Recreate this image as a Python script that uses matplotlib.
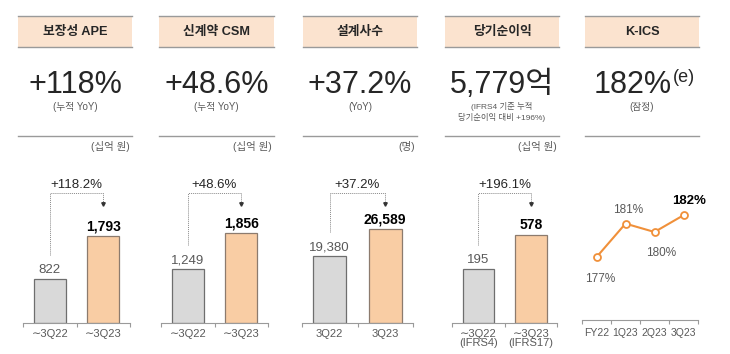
import numpy as np
import matplotlib.pyplot as plt
from matplotlib.patches import Rectangle
from matplotlib import transforms

plt.rcParams['font.family'] = ['Liberation Sans', 'Noto Sans CJK KR', 'DejaVu Sans']

# --- data ---
titles = ['보장성 APE', '신계약 CSM', '설계사수', '당기순이익', 'K-ICS']
headline = ['+118%', '+48.6%', '+37.2%', '5,779억', '182%']
subnotes = ['(누적 YoY)', '(누적 YoY)', '(YoY)', '(IFRS4 기준 누적\n당기순이익 대비 +196%)', '(잠정)']
units = ['(십억 원)', '(십억 원)', '(명)', '(십억 원)', '']

bar_labels = [['∼3Q22', '∼3Q23'], ['∼3Q22', '∼3Q23'], ['3Q22', '3Q23'],
              ['∼3Q22\n(IFRS4)', '∼3Q23\n(IFRS17)']]
bar_values = [[822, 1793], [1249, 1856], [19380, 26589], [195, 578]]
growth = ['+118.2%', '+48.6%', '+37.2%', '+196.1%']

kics_quarters = ['FY22', '1Q23', '2Q23', '3Q23']
kics_ratio = [177, 181, 180, 182]

# --- layout (pixels) ---
W, H = 730, 354
panel_x = [(18, 132), (159, 274), (303, 417), (445, 559), (585, 699)]
axis_x = [(23, 130), (161, 268), (302, 413), (452, 557), (582, 698)]
bar_ylims = [(-172, 3170), (338, 2834), (1490, 41008), (-413, 1254)]

header_fill = '#FBE3CF'
line_gray = '#9A9A9A'
txt_dark = '#262626'
txt_gray = '#595959'
gray_bar = '#D9D9D9'
peach_bar = '#F9CDA4'
orange = '#F0903A'


def fx(px):
    return px / W


def fy(py):
    return 1 - py / H


fig = plt.figure(figsize=(7.3, 3.54), dpi=100)

# --- header blocks ---
for i, (x0, x1) in enumerate(panel_x):
    cx = fx((x0 + x1) / 2)
    fig.patches.append(Rectangle((fx(x0), fy(47)), fx(x1) - fx(x0), fy(16) - fy(47),
                                 transform=fig.transFigure, facecolor=header_fill,
                                 edgecolor='none'))
    for yy in (16, 47):
        fig.add_artist(plt.Line2D([fx(x0), fx(x1)], [fy(yy), fy(yy)], color=line_gray,
                                  lw=1.0, transform=fig.transFigure))
    fig.text(cx, fy(32), titles[i], ha='center', va='center', fontsize=9.2,
             color=txt_dark, weight='bold')

    if i < 4:
        fig.text(cx, fy(85), headline[i], ha='center', va='center', fontsize=22,
                 color=txt_dark)
    else:
        fig.text(fx(672), fy(85), headline[i], ha='right', va='center', fontsize=22,
                 color=txt_dark)
        fig.text(fx(673), fy(77), '(e)', ha='left', va='center', fontsize=13,
                 color=txt_dark)

    if i == 3:
        fig.text(cx, fy(112), subnotes[i], ha='center', va='center', fontsize=6,
                 color=txt_gray, linespacing=1.25)
    else:
        fig.text(cx, fy(107), subnotes[i], ha='center', va='center', fontsize=7,
                 color=txt_gray)

    fig.add_artist(plt.Line2D([fx(x0), fx(x1)], [fy(136), fy(136)], color=line_gray,
                              lw=1.0, transform=fig.transFigure))
    if units[i]:
        fig.text(fx(x1 - 2), fy(147), units[i], ha='right', va='center', fontsize=7.5,
                 color=txt_gray)

# --- bar panels ---
ax_top, ax_bot = 175, 323
for i in range(4):
    x0, x1 = axis_x[i]
    ax = fig.add_axes([fx(x0), fy(ax_bot), fx(x1) - fx(x0), fy(ax_top) - fy(ax_bot)])
    vals = np.array(bar_values[i])
    lo, hi = bar_ylims[i]
    ax.bar([0, 1], vals - lo, bottom=lo, width=0.6, color=[gray_bar, peach_bar],
           edgecolor=['#6E6E6E', '#8C7B6E'], linewidth=0.9, zorder=2)
    ax.set_xlim(-0.5, 1.5)
    ax.set_ylim(lo, hi)

    ax.annotate(f'{vals[0]:,}', (0, vals[0]), xytext=(0, 2), textcoords='offset points',
                ha='center', va='bottom', fontsize=9.5, color=txt_gray)
    ax.annotate(f'{vals[1]:,}', (1, vals[1]), xytext=(0, 2), textcoords='offset points',
                ha='center', va='bottom', fontsize=10, color='black', weight='bold')

    # dotted bracket showing growth
    trans = transforms.blended_transform_factory(ax.transData, ax.transAxes)
    y_start = (vals[0] - lo) / (hi - lo) + 24 / (ax_bot - ax_top)
    y_top = (ax_bot - 193) / (ax_bot - ax_top)
    y_tip = (ax_bot - 204) / (ax_bot - ax_top)
    ax.plot([0, 0, 1, 1], [y_start, y_top, y_top, y_tip], transform=trans,
            color='#8A8A8A', lw=0.7, ls=(0, (1, 1)), clip_on=False)
    ax.plot([1], [y_tip], transform=trans, marker='v', ms=2.5, color='#333333',
            clip_on=False)
    ax.text(0.5, (ax_bot - 185) / (ax_bot - ax_top), growth[i], transform=trans,
            ha='center', va='center', fontsize=9.5, color=txt_dark)

    for s in ['top', 'right', 'left']:
        ax.spines[s].set_visible(False)
    ax.spines['bottom'].set_color(line_gray)
    ax.spines['bottom'].set_linewidth(0.8)
    ax.set_yticks([])
    ax.set_xticks([0, 1])
    ax.set_xticklabels(bar_labels[i], fontsize=8, color=txt_gray, linespacing=0.95)
    ax.tick_params(axis='x', which='major', length=0, pad=4)
    ax.set_xticks([-0.5, 0.5, 1.5], minor=True)
    ax.tick_params(axis='x', which='minor', length=3, color=line_gray, width=0.8)
    ax.patch.set_visible(False)

# --- K-ICS line panel ---
x0, x1 = axis_x[4]
ax = fig.add_axes([fx(x0), fy(320), fx(x1) - fx(x0), fy(ax_top) - fy(320)])
xs = np.arange(len(kics_quarters))
ax.plot(xs, kics_ratio, color=orange, lw=1.5, marker='o', ms=5,
        markerfacecolor='white', markeredgecolor=orange, markeredgewidth=1.3)
ax.set_xlim(-0.5, 3.5)
ax.set_ylim(169.5, 186.8)
offsets = [(3, -16), (2, 10), (5, -15), (4, 10)]
for j, (q, v) in enumerate(zip(kics_quarters, kics_ratio)):
    dx, dy = offsets[j]
    last = j == len(kics_ratio) - 1
    ax.annotate(f'{v}%', (j, v), xytext=(dx, dy), textcoords='offset points',
                ha='center', va='center', fontsize=9.5 if last else 8.5,
                color='black' if last else txt_gray, weight='bold' if last else 'normal')
for s in ['top', 'right', 'left']:
    ax.spines[s].set_visible(False)
ax.spines['bottom'].set_color(line_gray)
ax.spines['bottom'].set_linewidth(0.8)
ax.set_yticks([])
ax.set_xticks(xs)
ax.set_xticklabels(kics_quarters, fontsize=7.5, color=txt_gray)
ax.tick_params(axis='x', which='major', length=0, pad=6)
ax.set_xticks([-0.5, 0.5, 1.5, 2.5, 3.5], minor=True)
ax.tick_params(axis='x', which='minor', length=3, color=line_gray, width=0.8)
ax.patch.set_visible(False)

fig.savefig('out.png', dpi=100)
